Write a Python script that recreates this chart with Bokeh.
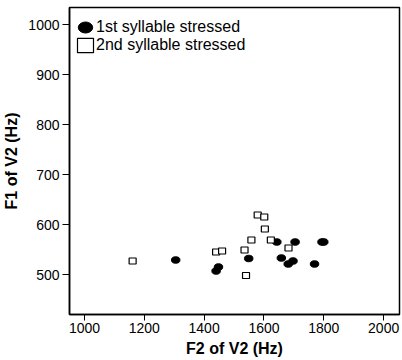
from bokeh.plotting import figure
from bokeh.models import Range1d, FixedTicker, Legend, LegendItem
from bokeh.embed import file_html
from bokeh.resources import INLINE

# 1st syllable stressed (filled circles)
f2_first = [1305, 1440, 1448, 1549, 1643, 1658, 1681, 1697, 1704, 1769, 1794, 1800]
f1_first = [529, 507, 515, 532, 565, 533, 521, 527, 565, 521, 565, 565]

# 2nd syllable stressed (open squares)
f2_second = [1161, 1440, 1460, 1535, 1558, 1579, 1601, 1603, 1623, 1682, 1540]
f1_second = [527, 545, 547, 549, 569, 619, 615, 591, 569, 553, 498]

x_ticks = [1000, 1200, 1400, 1600, 1800, 2000]
y_ticks = [500, 600, 700, 800, 900, 1000]

FONT = "Liberation Sans"

p = figure(width=402, height=360, output_backend="svg", toolbar_location=None,
           x_range=Range1d(950, 2053), y_range=Range1d(420, 1034),
           min_border_left=67, min_border_right=3, min_border_top=7, min_border_bottom=46)

p.xgrid.visible = False
p.ygrid.visible = False
p.outline_line_color = "black"
p.outline_line_width = 1.5
p.background_fill_color = "white"
p.border_fill_color = "white"

for ax in (p.xaxis, p.yaxis):
    ax.axis_line_color = "black"
    ax.axis_line_width = 1.5
    ax.major_tick_line_color = "black"
    ax.major_tick_in = 0
    ax.minor_tick_line_color = None
    ax.major_label_text_font = FONT
    ax.major_label_text_font_size = "14px"
    ax.major_label_text_color = "black"
    ax.axis_label_text_font = FONT
    ax.axis_label_text_font_size = "16px"
    ax.axis_label_text_font_style = "bold"
    ax.axis_label_text_color = "black"

p.xaxis.ticker = FixedTicker(ticks=x_ticks)
p.yaxis.ticker = FixedTicker(ticks=y_ticks)
p.xaxis.axis_label = "F2 of V2 (Hz)"
p.yaxis.axis_label = "F1 of V2 (Hz)"
p.xaxis.major_tick_out = 6
p.yaxis.major_tick_out = 7
p.xaxis.major_label_standoff = 2
p.yaxis.major_label_standoff = 3
p.xaxis.axis_label_standoff = 4
p.yaxis.axis_label_standoff = 5

r1 = p.ellipse(f2_first, f1_first, width=8.5, height=6.5,
               width_units="screen", height_units="screen",
               fill_color="black", line_color="black")
r2 = p.rect(f2_second, f1_second, width=7, height=6,
            width_units="screen", height_units="screen",
            fill_color="white", line_color="black", line_width=1.2)

legend = Legend(items=[LegendItem(label="1st syllable stressed", renderers=[r1]),
                       LegendItem(label="2nd syllable stressed", renderers=[r2])],
                location="top_left")
legend.title = " "
legend.title_text_font_size = "4px"
legend.title_standoff = 0
legend.label_text_font = FONT
legend.label_text_font_size = "16px"
legend.label_text_color = "black"
legend.label_text_baseline = "middle"
legend.border_line_color = None
legend.background_fill_alpha = 0
legend.glyph_width = 20
legend.glyph_height = 18
legend.label_standoff = 1
legend.spacing = -3
legend.padding = 3
legend.margin = 6
legend.label_height = 16
p.add_layout(legend)

open("out.html", "w").write(file_html(p, INLINE))
